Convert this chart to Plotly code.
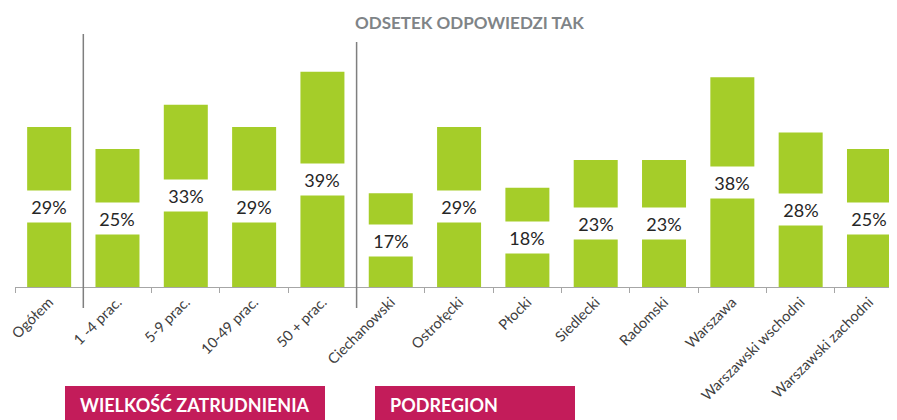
import plotly.graph_objects as go

categories = ["Ogółem", "1 -4 prac.", "5-9 prac.", "10-49 prac.", "50 + prac.",
              "Ciechanowski", "Ostrołęcki", "Płocki", "Siedlecki", "Radomski",
              "Warszawa", "Warszawski wschodni", "Warszawski zachodni"]
values = [29, 25, 33, 29, 39, 17, 29, 18, 23, 23, 38, 28, 25]
group_labels = ["WIELKOŚĆ ZATRUDNIENIA", "PODREGION"]

green = "#a5cd29"
magenta = "#c31c5a"
grey = "#7f8487"
font = "Lato, 'Open Sans', sans-serif"

# the page body has an 8px margin, so work in page pixels and shift
OFF = 8
FW, FH = 897 - OFF, 420 - OFF
# plot area in page pixels: left 15, right 897, bottom 287
L, R, T, B = 15 - OFF, 897 - OFF, 0, 287 - OFF
W, H = R - L, B - T
px = lambda x: (x - OFF - L) / W
py = lambda y: (B - (y - OFF)) / H

fig = go.Figure()
fig.add_trace(go.Bar(x=categories, y=values, marker_color=green,
                     marker_line_width=0, hoverinfo="skip"))

# value labels on white boxes in the middle of each bar
for c, v in zip(categories, values):
    fig.add_annotation(x=c, y=v / 2, text=f"{v}%", showarrow=False,
                       bgcolor="white", width=58, height=29,
                       font=dict(family=font, size=18, color="#262626"))

# title
fig.add_annotation(x=px(469), y=py(22), xref="paper", yref="paper",
                   yanchor="middle", text="<b>ODSETEK ODPOWIEDZI TAK</b>",
                   showarrow=False, font=dict(family=font, size=17, color=grey))

# separators between groups
for xs, ytop in [(0.5, 34), (4.5, 42)]:
    fig.add_shape(type="line", xref="x", yref="paper", x0=xs, x1=xs,
                  y0=py(ytop), y1=py(308), line=dict(color="#7f7f7f", width=1.5))

# group boxes at the bottom
for lab, x0, x1 in [(group_labels[0], 65, 325), (group_labels[1], 375, 575)]:
    fig.add_shape(type="rect", xref="paper", yref="paper",
                  x0=px(x0), x1=px(x1), y0=py(386), y1=py(430),
                  fillcolor=magenta, line_width=0)
    fig.add_annotation(x=px(x0 + 13), y=py(405), xref="paper", yref="paper",
                       xanchor="left", yanchor="middle", text=f"<b>{lab}</b>",
                       showarrow=False,
                       font=dict(family=font, size=18, color="white"))

fig.update_layout(
    width=FW, height=FH,
    margin=dict(l=L, r=0, t=T, b=FH - B, autoexpand=False),
    plot_bgcolor="white", paper_bgcolor="white",
    showlegend=False, bargap=0.356,
    xaxis=dict(range=[-0.5, 12.41], tickangle=-45, showline=True,
               linecolor="#a6a6a6", linewidth=1, ticks="outside",
               tickson="boundaries", ticklen=5, tickcolor="#a6a6a6",
               tickfont=dict(family=font, size=14.5, color="#404040"),
               showgrid=False, fixedrange=True, automargin=False),
    yaxis=dict(range=[0, H / 5.52], visible=False, showgrid=False,
               fixedrange=True),
)

fig.write_html("out.html")
